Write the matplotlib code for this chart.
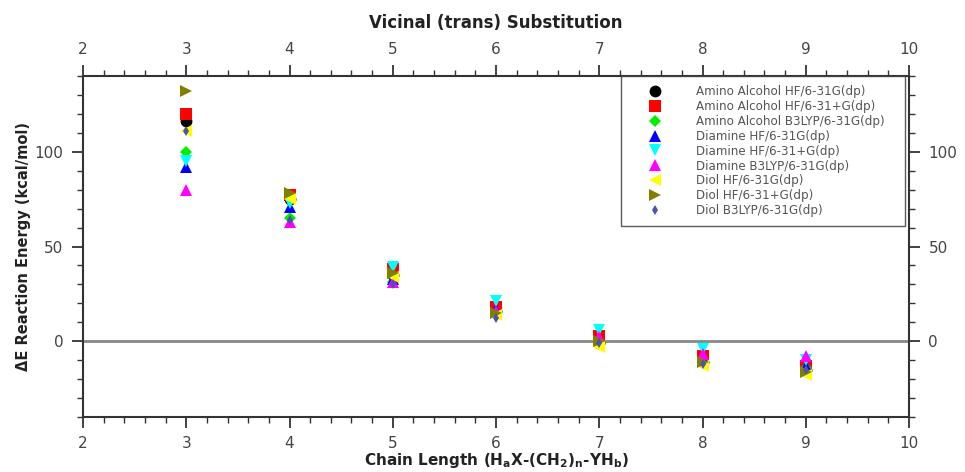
import matplotlib
matplotlib.use("Agg")
import matplotlib.pyplot as plt
from matplotlib.ticker import MultipleLocator

chain_length = [3, 4, 5, 6, 7, 8, 9]

series_names = [
    "Amino Alcohol HF/6-31G(dp)",
    "Amino Alcohol HF/6-31+G(dp)",
    "Amino Alcohol B3LYP/6-31G(dp)",
    "Diamine HF/6-31G(dp)",
    "Diamine HF/6-31+G(dp)",
    "Diamine B3LYP/6-31G(dp)",
    "Diol HF/6-31G(dp)",
    "Diol HF/6-31+G(dp)",
    "Diol B3LYP/6-31G(dp)",
]

aa_hf = [116, 75, 35, 16, -1, -11, -15]
aa_hf_plus = [120, 77, 38, 18, 3, -8, -13]
aa_b3lyp = [100, 65, 31, 15, 0, -10, -14]
di_hf = [92, 71, 33, 17, 1, -9, -13]
di_hf_plus = [95, 73, 39, 21, 6, -4, -10]
di_b3lyp = [80, 63, 31, 16, 2, -7, -8]
diol_hf = [111, 75, 34, 14, -3, -13, -18]
diol_hf_plus = [132, 78, 36, 15, 0, -11, -16]
diol_b3lyp = [111, 64, 30, 12, -1, -12, -15]

series_values = [aa_hf, aa_hf_plus, aa_b3lyp, di_hf, di_hf_plus, di_b3lyp,
                 diol_hf, diol_hf_plus, diol_b3lyp]

markers = ["o", "s", "D", "^", "v", "^", "<", ">", "d"]
colors = ["#000000", "#ff0000", "#00ee00", "#0000ff", "#00ffff", "#ff00ff",
          "#ffff00", "#808000", "#5050b0"]
sizes = [8.5, 8.5, 6, 8, 8, 8, 8, 8, 5]

fig = plt.figure(figsize=(9.65, 4.72), dpi=100)
ax = fig.add_axes([0.086, 0.1165, 0.856, 0.7225])

ax.axhline(0, color="#888888", lw=2, zorder=1)

handles = []
for name, vals, m, c, s in zip(series_names, series_values, markers, colors, sizes):
    h, = ax.plot(chain_length, vals, linestyle="none", marker=m, color=c,
                 markersize=s, markeredgewidth=0, label=name, zorder=3)
    handles.append(h)

ax.set_xlim(2, 10)
ax.set_ylim(-40, 140)
ax.xaxis.set_major_locator(MultipleLocator(1))
ax.xaxis.set_minor_locator(MultipleLocator(0.2))
ax.set_yticks([0, 50, 100])
ax.yaxis.set_minor_locator(MultipleLocator(10))

ax.tick_params(axis="both", which="both", direction="out",
               top=True, right=True, labeltop=True, labelright=True,
               colors="#333333", labelcolor="#444444", labelsize=11)
ax.tick_params(which="major", length=8, width=1.3)
ax.tick_params(which="minor", length=4, width=1.0)
ax.tick_params(axis="x", which="major", pad=5.5)
ax.tick_params(axis="y", which="major", pad=6)
for sp in ax.spines.values():
    sp.set_color("#333333")
    sp.set_linewidth(1.5)

ax.set_title("Vicinal (trans) Substitution", fontsize=12, fontweight="bold",
             color="#222222", pad=10)
ax.set_xlabel(r"Chain Length (H$_\mathbf{a}$X-(CH$_\mathbf{2}$)$_\mathbf{n}$-YH$_\mathbf{b}$)",
              fontsize=11, fontweight="bold", color="#222222", labelpad=0)
ax.set_ylabel("ΔE Reaction Energy (kcal/mol)", fontsize=10.5, fontweight="bold",
              color="#222222", labelpad=3)

leg = ax.legend(handles, [n + "   " for n in series_names],
                loc="upper right", bbox_to_anchor=(0.995, 1.0), borderaxespad=0,
                fontsize=8.6, frameon=True, fancybox=False, labelspacing=0.16,
                handletextpad=1.35, borderpad=0.75, markerscale=1.0,
                handlelength=4.2)
leg.get_frame().set_edgecolor("#333333")
leg.get_frame().set_linewidth(1.0)
for t in leg.get_texts():
    t.set_color("#555555")

fig.savefig("out.png", dpi=100)
